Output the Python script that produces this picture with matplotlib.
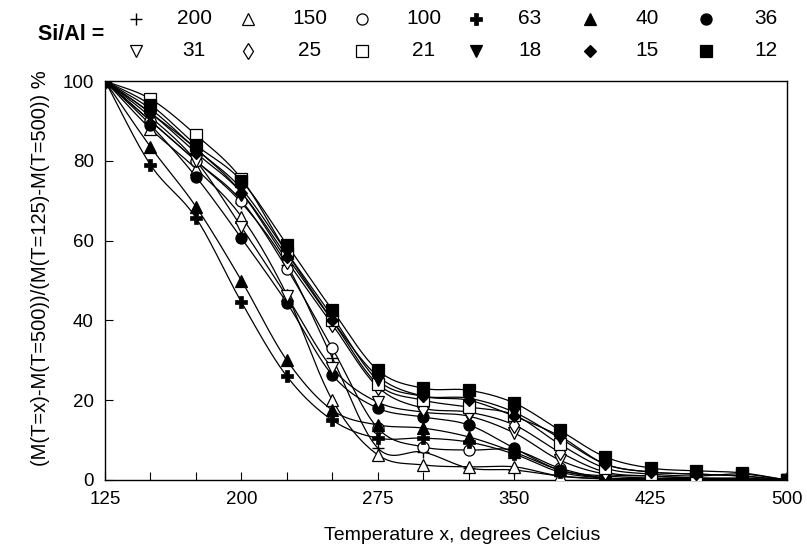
import numpy as np
import matplotlib
matplotlib.use("Agg")
import matplotlib.pyplot as plt

plt.rcParams['font.family'] = ['Liberation Sans', 'DejaVu Sans']

temps = [125, 150, 175, 200, 225, 250, 275, 300, 325, 350, 375, 400, 425, 450, 475, 500]

ratios = ["200", "150", "100", "63", "40", "36", "31", "25", "21", "18", "15", "12"]

s200 = [100, 90, 80, 69.5, 53.9, 30.6, 8, 7, 3, 2.5, 1, 0.3, 0.2, 0.1, 0.1, 0]
s150 = [100, 88, 78, 66, 46.4, 20, 6.3, 3.8, 3.3, 3.3, 1, 0.3, 0.2, 0.1, 0.1, 0]
s100 = [100, 90, 80, 70, 53, 33, 13, 8.3, 7.5, 7.5, 3, 0.5, 0.3, 0.2, 0.1, 0]
s63 = [100, 79, 65.7, 44.6, 26, 15, 10.5, 10.5, 9.5, 6.5, 2, 0.5, 0.3, 0.2, 0.1, 0]
s40 = [100, 83.5, 68.5, 50, 30, 17.5, 13.8, 13, 10.8, 7, 2.5, 0.5, 0.3, 0.2, 0.1, 0]
s36 = [100, 89, 76, 60.6, 44.4, 26.3, 18, 15.8, 13.8, 8, 2.5, 1, 0.5, 0.3, 0.2, 0]
s31 = [100, 91, 80, 63.4, 46, 28, 19.5, 17, 16, 11.8, 5, 1.5, 1, 0.5, 0.3, 0]
s25 = [100, 92, 83, 72, 55, 39, 23.3, 18, 17, 13.8, 7, 2, 1, 0.5, 0.5, 0]
s21 = [100, 95.5, 86.5, 75.5, 57, 40, 24, 20, 18.3, 16.3, 9, 3, 1.5, 1, 1.5, 0]
s18 = [100, 93, 83, 73, 57, 41, 25, 21, 20.5, 17, 10.5, 4, 2, 1.5, 1, 0]
s15 = [100, 92, 82, 72, 56, 40, 26, 21, 20, 16, 11, 4, 2, 1.5, 1, 0]
s12 = [100, 94, 84, 75, 59, 42.6, 27.5, 23, 22.5, 19.3, 12.5, 5.8, 3, 2.3, 1.8, 0]

series = [s200, s150, s100, s63, s40, s36, s31, s25, s21, s18, s15, s12]

# marker styles: (marker, facecolor, size, mew)
styles = [
    ('+', 'black', 9, 1.0),
    ('^', 'white', 8, 0.9),
    ('o', 'white', 8, 0.9),
    ('P', 'black', 9, 0.5),
    ('^', 'black', 8, 0.9),
    ('o', 'black', 8, 0.9),
    ('v', 'white', 8, 0.9),
    ('d', 'white', 8, 0.9),
    ('s', 'white', 8, 0.9),
    ('v', 'black', 8, 0.9),
    ('D', 'black', 6, 0.9),
    ('s', 'black', 8, 0.9),
]


def catmull_rom(x, y, n=20):
    x = np.asarray(x, float)
    y = np.asarray(y, float)
    px = np.concatenate([[2 * x[0] - x[1]], x, [2 * x[-1] - x[-2]]])
    py = np.concatenate([[2 * y[0] - y[1]], y, [2 * y[-1] - y[-2]]])
    xs, ys = [], []
    t = np.linspace(0, 1, n, endpoint=False)
    for i in range(1, len(px) - 2):
        p0, p1, p2, p3 = py[i - 1], py[i], py[i + 1], py[i + 2]
        q0, q1, q2, q3 = px[i - 1], px[i], px[i + 1], px[i + 2]
        ys.append(0.5 * ((2 * p1) + (-p0 + p2) * t + (2 * p0 - 5 * p1 + 4 * p2 - p3) * t ** 2 + (-p0 + 3 * p1 - 3 * p2 + p3) * t ** 3))
        xs.append(0.5 * ((2 * q1) + (-q0 + q2) * t + (2 * q0 - 5 * q1 + 4 * q2 - q3) * t ** 2 + (-q0 + 3 * q1 - 3 * q2 + q3) * t ** 3))
    xs.append([x[-1]])
    ys.append([y[-1]])
    return np.concatenate(xs), np.concatenate(ys)


fig = plt.figure(figsize=(8.07, 5.46), dpi=100)
ax = fig.add_axes([105 / 807, 1 - 480 / 546, (787 - 105) / 807, (480 - 81) / 546])

for vals, (m, fc, ms, mew) in zip(series, styles):
    cx, cy = catmull_rom(temps, vals)
    ax.plot(cx, cy, color='black', lw=0.9, zorder=2)
    ax.plot(temps, vals, linestyle='none', marker=m, markerfacecolor=fc,
            markeredgecolor='black', markersize=ms, markeredgewidth=mew, zorder=3)

ax.set_xlim(125, 500)
ax.set_ylim(0, 100)
ax.set_xticks(list(range(125, 501, 75)))
ax.set_xticks(list(range(125, 501, 25)), minor=True)
ax.set_yticks(list(range(0, 101, 20)))
ax.tick_params(axis='both', which='both', direction='in', labelsize=13.5, color='black')
ax.tick_params(axis='both', which='major', length=6, width=0.8, pad=8)
ax.tick_params(axis='x', which='minor', length=6, width=0.8)
ax.tick_params(top=False, right=False)
for sp in ax.spines.values():
    sp.set_linewidth(1.0)
ax.set_xlabel("Temperature x, degrees Celcius", fontsize=14)
ax.xaxis.set_label_coords((462 - 105) / 682, -(527 - 480) / 399)
ax.set_ylabel("(M(T=x)-M(T=500))/(M(T=125)-M(T=500)) %", fontsize=14.5)
ax.yaxis.set_label_coords(-(105 - 50) / 682, (480 - 268) / 399)

# legend block
lax = fig.add_axes([0, 1 - 70 / 546, 1, 70 / 546])
lax.set_xlim(0, 807)
lax.set_ylim(70, 0)
lax.axis('off')
lax.text(38, 35, "Si/Al =", fontsize=15.5, fontweight='bold', va='center', ha='left')
mx = [136, 248, 362, 476, 590, 706]
nx = [194, 310, 424, 530, 647, 766]
rows_y = [19, 51]
for k, (lab, (m, fc, ms, mew)) in enumerate(zip(ratios, styles)):
    r = k // 6
    c = k % 6
    lax.plot([mx[c]], [rows_y[r]], linestyle='none', marker=m, markerfacecolor=fc,
             markeredgecolor='black', markersize=ms, markeredgewidth=mew, clip_on=False)
    lax.text(nx[c], rows_y[r], lab, fontsize=15, va='center', ha='center')

fig.savefig("out.png", dpi=100)
